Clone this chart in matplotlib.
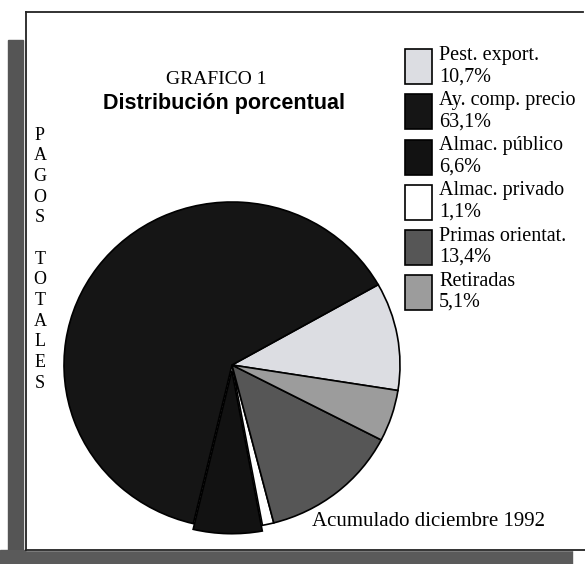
import matplotlib
matplotlib.use("Agg")
import matplotlib.pyplot as plt
from matplotlib.patches import Rectangle
from matplotlib.lines import Line2D

# data, in legend order
labels = ['Pest. export.', 'Ay. comp. precio', 'Almac. público',
          'Almac. privado', 'Primas orientat.', 'Retiradas']
shares = [10.7, 63.1, 6.6, 1.1, 13.4, 5.1]
colors = ['#dcdde2', '#151515', '#121212', '#ffffff', '#565656', '#9c9c9c']
explode = [0, 0, 0.035, 0, 0, 0]

W, H = 585, 564
fig = plt.figure(figsize=(W / 100, H / 100), dpi=100)
fig.patch.set_facecolor('white')

def fx(px):
    return px / W

def fy(py):
    return 1 - py / H

# scanned page look: gray strips on the left and bottom, white sheet on top
fig.patches.append(Rectangle((fx(8), 0), fx(15), (564 - 40) / H,
                             transform=fig.transFigure, color='#555555', zorder=-3))
fig.patches.append(Rectangle((0, 0), fx(572), 14 / H, transform=fig.transFigure,
                             color='#5a5a5a', zorder=-3))
fig.patches.append(Rectangle((fx(26), fy(550)), fx(585) - fx(26), fy(12) - fy(550),
                             transform=fig.transFigure, color='white', zorder=-2))
for xs, ys in [((26, 583), (12, 12)), ((26, 26), (12, 550)), ((26, 585), (550, 550))]:
    fig.lines.append(Line2D([fx(x) for x in xs], [fy(y) for y in ys],
                            transform=fig.transFigure, color='#222222', lw=1.3,
                            zorder=-1))

# pie axes: center (232, 365) px, radii 168 x 163 px
ax = fig.add_axes([fx(64), fy(528), fx(336), 326 / H])
wedges, _ = ax.pie(shares, colors=colors, explode=explode, startangle=-9,
                   counterclock=True,
                   wedgeprops=dict(edgecolor='black', linewidth=1.2))
ax.set_xlim(-1, 1)
ax.set_ylim(-1, 1)
ax.set_aspect('auto')
ax.axis('off')
for w in wedges:
    w.set_clip_on(False)

# titles
serif = ['Liberation Serif', 'DejaVu Serif']
fig.text(fx(216), fy(80), 'GRAFICO 1', family=serif, fontsize=14,
         ha='center', va='center')
fig.text(fx(224), fy(104), 'Distribución porcentual',
         family=['Liberation Sans', 'DejaVu Sans'], fontweight='bold',
         fontsize=15.5, ha='center', va='center')

# vertical side label
side = 'PAGOS TOTALES'
for i, ch in enumerate(side):
    if ch != ' ':
        fig.text(fx(40), fy(135 + i * 20.7), ch, family=serif, fontsize=13,
                 ha='center', va='center')

fig.text(fx(312), fy(522), 'Acumulado diciembre 1992', family=serif,
         fontsize=15, ha='left', va='center')

# legend
leg_labels = [f"{lab}\n{str(v).replace('.', ',')}%" for lab, v in zip(labels, shares)]
leg = fig.legend(wedges, leg_labels, loc='upper left',
                 bbox_to_anchor=(fx(405), fy(46)), frameon=False,
                 prop={'family': 'Liberation Serif', 'size': 14.5},
                 handlelength=1.35, handleheight=2.3, handletextpad=0.35,
                 labelspacing=0.25, borderpad=0, borderaxespad=0)
for t in leg.get_texts():
    t.set_linespacing(1.15)

fig.savefig('out.png', dpi=100)
